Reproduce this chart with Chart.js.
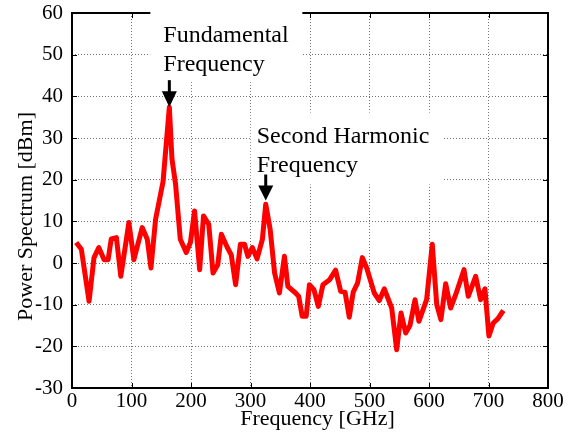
<!DOCTYPE html>
<html><head><meta charset="utf-8">
<script src="https://cdn.jsdelivr.net/npm/chart.js@4"></script>
<style>html,body{margin:0;padding:0;background:#fff}</style>
</head><body>
<canvas id="c" width="575" height="445"></canvas>
<script>
// ---- data ----
const freqGHz = [7,15.7,28.7,37,45,54,60.7,66,74.6,82,95.6,104,118,126.5,132.7,140.5,153,163.6,168,174,182,192,199,206,214.6,221,229.8,237,245,251,261,267.6,275,283,290,295.6,303,311,320,325.6,333,340.5,348.6,357,362.8,375.8,381,386.9,393.6,399,406.6,414,421.7,433,443,451.6,458.9,466,472.6,480,487.9,495.3,508,516.5,524.9,537.3,545.7,553,560.8,568,576.5,583,596,605.5,613,620,628,636.4,644.8,658.8,666,678.4,686.8,694,700.7,708,715.5,725];
const powerDbm = [4.9,3.3,-9.2,1.3,3.7,0.8,0.8,5.8,6.1,-3.2,9.7,0.8,8.5,5.7,-1.2,10.5,19.5,37.4,25,19,5.7,2.5,4.9,12.5,-1.6,11.3,9.3,-2.4,-0.4,6.9,3.7,2,-5.2,4.5,4.5,1.6,3.7,1.0,5.7,14.1,8.1,-2.4,-7.2,1.6,-5.6,-7.2,-8,-12.8,-12.8,-5.2,-6.4,-10.4,-5.2,-4,-1.7,-6.8,-7,-13,-7,-4.8,1.3,-1.2,-7.2,-9,-6.2,-10.8,-20.8,-12,-16.8,-15,-8.8,-14,-8.8,4.5,-10,-13.6,-5,-10.8,-7.6,-1.6,-8,-3.2,-8.8,-6.2,-17.5,-14.4,-13.4,-11.4];
const xTickValues = [0,100,200,300,400,500,600,700,800];
const yTickValues = [-30,-20,-10,0,10,20,30,40,50,60];
const xTitle = "Frequency [GHz]";
const yTitle = "Power Spectrum [dBm]";
const annotLines = [["Fundamental","Frequency"],["Second Harmonic","Frequency"]];
const annotTipFreq = [163.6, 325.6];
const annotTipPower = [37.4, 15];

// ---- layout / style (pixel offsets relative to arrow tip) ----
const annotLayout = [
  {box:[-19,-120,133,-25], text:[-6,-65,-36], shaft:[-27,-16]},
  {box:[-15,-88,177,-16], text:[-9,-58,-29], shaft:[-26,-15]}
];
const SERIF = "'Liberation Serif','Times New Roman',serif";

const deco = {
  id:'deco',
  beforeDatasetsDraw(chart){
    const {ctx, chartArea:a, scales:{x,y}} = chart;
    ctx.save();
    ctx.strokeStyle='#000';
    ctx.lineWidth=2;
    ctx.strokeRect(a.left, a.top, a.right-a.left, a.bottom-a.top);
    ctx.lineWidth=1;
    ctx.beginPath();
    xTickValues.forEach(v=>{const p=Math.round(x.getPixelForValue(v))+0.5;
      ctx.moveTo(p,a.bottom);ctx.lineTo(p,a.bottom-5);ctx.moveTo(p,a.top);ctx.lineTo(p,a.top+5);});
    yTickValues.forEach(v=>{const p=Math.round(y.getPixelForValue(v))+0.5;
      ctx.moveTo(a.left,p);ctx.lineTo(a.left+5,p);ctx.moveTo(a.right,p);ctx.lineTo(a.right-5,p);});
    ctx.stroke();
    ctx.fillStyle='#fff';
    annotTipFreq.forEach((f,i)=>{
      const tx=x.getPixelForValue(f), ty=y.getPixelForValue(annotTipPower[i]);
      const b=annotLayout[i].box;
      ctx.fillRect(tx+b[0], ty+b[1], b[2]-b[0], b[3]-b[1]);
    });
    ctx.restore();
  },
  afterDatasetsDraw(chart){
    const {ctx, chartArea:a, scales:{x,y}} = chart;
    ctx.save();
    ctx.fillStyle='#000';
    ctx.font='24px '+SERIF;
    ctx.textAlign='left';ctx.textBaseline='alphabetic';
    annotTipFreq.forEach((f,i)=>{
      const tx=x.getPixelForValue(f), ty=y.getPixelForValue(annotTipPower[i]);
      const L=annotLayout[i];
      ctx.fillText(annotLines[i][0], tx+L.text[0], ty+L.text[1]);
      ctx.fillText(annotLines[i][1], tx+L.text[0], ty+L.text[2]);
      ctx.fillRect(tx-1.5, ty+L.shaft[0], 3, L.shaft[1]-L.shaft[0]+1);
      ctx.beginPath();
      ctx.moveTo(tx-7.5, ty+L.shaft[1]);ctx.lineTo(tx+7.5, ty+L.shaft[1]);ctx.lineTo(tx, ty);ctx.closePath();ctx.fill();
    });
    // axis titles
    ctx.font='22px '+SERIF;
    ctx.textAlign='center';
    ctx.fillText(xTitle, (a.left+a.right)/2+7.5, 425);
    ctx.translate(32,(a.top+a.bottom)/2+16);
    ctx.rotate(-Math.PI/2);
    ctx.fillText(yTitle,0,0);
    ctx.restore();
  }
};

new Chart(document.getElementById('c'), {
  type:'line',
  data:{datasets:[{
    data: freqGHz.map((f,i)=>({x:f,y:powerDbm[i]})),
    borderColor:'#ff0000', borderWidth:5, pointRadius:0, tension:0, fill:false,
    borderJoinStyle:'round'
  }]},
  options:{
    responsive:false, animation:false, devicePixelRatio:1,
    layout:{padding:{top:13,right:27,left:0,bottom:0}},
    plugins:{legend:{display:false},tooltip:{enabled:false}},
    scales:{
      x:{type:'linear',min:0,max:800,
        afterBuildTicks(s){s.ticks=xTickValues.map(v=>({value:v}));},
        afterFit(s){s.height=57;s.paddingLeft=0;s.paddingRight=0;},
        ticks:{color:'#000',font:{family:SERIF,size:21},padding:1,maxRotation:0},
        grid:{color:'rgba(0,0,0,0.55)',lineWidth:1,drawTicks:false},
        border:{display:false,dash:[1,2]}},
      y:{type:'linear',min:-30,max:60,
        afterBuildTicks(s){s.ticks=yTickValues.map(v=>({value:v}));},
        afterFit(s){s.width=72;s.paddingTop=0;s.paddingBottom=0;},
        ticks:{color:'#000',font:{family:SERIF,size:21},padding:9},
        grid:{color:'rgba(0,0,0,0.55)',lineWidth:1,drawTicks:false},
        border:{display:false,dash:[1,2]}}
    }
  },
  plugins:[deco]
});
</script>
</body></html>
